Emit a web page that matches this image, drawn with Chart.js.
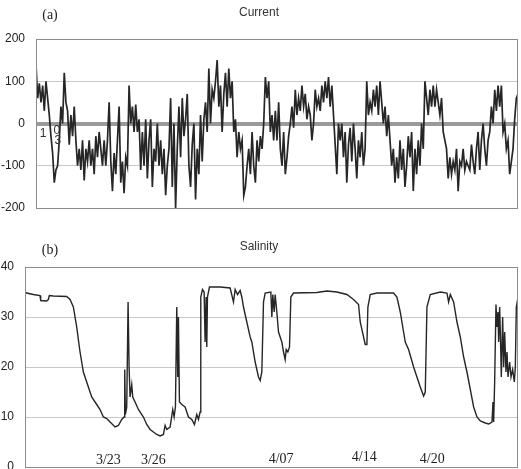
<!DOCTYPE html>
<html lang="en">

<head>
    <meta charset="UTF-8">
    <title>Current and Salinity</title>
    <style>
        body {
            margin: 0;
            background: #fff;
        }

        canvas {
            display: block;
        }
    </style>
    <script src="https://cdn.jsdelivr.net/npm/chart.js"></script>
</head>

<body>
    <canvas id="currentChart" width="521" height="222"></canvas>
    <canvas id="salinityChart" width="521" height="247"></canvas>

    <script>
        // current readings, one per sample
        var currentValues = [
            140, 60, 95, 50, 90, 30, 100, 60, 20, -30, -70, -140,
            -110, -100, -40, 40, 0, 120, 50, 30, -50, 20, -30, 40,
            -40, -100, -60, -110, -40, -135, -60, -90, -40, -100, -60, -120,
            -30, -80, -20, -60, -100, -40, -100, -40, 50, -90, -160, -70,
            -120, -40, 40, -140, -90, -165, -80, -100, 90, 0, 40, -20,
            45, -20, 10, -110, -20, -100, 10, -130, -40, 10, -150, -60,
            -90, 0, -100, -40, -120, -60, -170, -100, -60, 60, -150, 0,
            -200, -60, 40, -80, 60, -30, 10, 70, -100, -150, -50, 0,
            -180, -60, -120, 20, -90, 10, 50, -20, 130, 0, 80, 60,
            100, 150, 40, 90, -20, 70, 120, 40, 130, 60, 100, -20,
            10, -80, -20, -60, -40, -170, -150, -100, -60, -120, -20, -100,
            -140, -40, -90, -30, -60, 0, 110, 60, 100, -20, 20, -40,
            30, -40, 50, -60, -100, -20, -120, -80, -30, 0, 40, -10,
            80, 20, 60, 30, 90, 40, 70, 10, 40, 20, -40, 0,
            80, 40, 60, 30, 90, 50, 100, 60, 110, 40, 90, 20,
            -50, -120, 0, -40, 0, -80, -20, -140, -50, -10, -90, 0,
            -60, -130, -40, -80, -20, -100, -60, 100, 20, 50, 30, 80,
            40, 90, 20, 100, 50, 0, 40, -30, 20, -40, -100, -60,
            -140, -80, -130, -40, -110, -60, -150, -100, -30, -80, -20, -160,
            -60, -120, -40, -100, 0, -60, 100, 60, 20, 80, 40, 90,
            40, 80, 50, 20, 60, -20, -40, -60, -130, -80, -120, -90,
            -110, -60, -160, -90, -100, -60, -110, -90, -100, -110, -50, -90,
            -120, -60, -20, -110, -40, 0, -60, -100, -40, -20, 40, 0,
            80, 30, 90, 40, 90, -20, 0, -60, -40, -120, -90, -60,
            10, 60, 70
        ];
        var currentTicks = [-200, -100, 0, 100, 200];
        var currentStray = ['1', '0', '3'];
        var currentStrayAt = [4.2, 12.6, 13.2];
        var currentStrayVal = [-24, -17, -40];

        // salinity: sample time and value
        var salTime = [
            0, 5, 25, 45, 47, 65, 70, 73, 85, 125, 135, 145, 155, 165, 175, 190, 200,
            215, 225, 235, 245, 255, 270, 280, 290, 297, 299, 301, 305, 309, 312, 315,
            320, 323, 330, 340, 355, 365, 375, 385, 395, 405, 415, 420, 425, 435, 443,
            447, 451, 455, 458, 460, 463, 470, 480, 490, 500, 508, 515, 520, 525, 527,
            532, 537, 540, 543, 545, 547, 553, 585, 615, 625, 630, 637, 645, 650, 655,
            665, 675, 680, 690, 700, 705, 710, 715, 720, 737, 740, 743, 747, 750, 755,
            760, 770, 775, 780, 783, 788, 793, 797, 805, 875, 905, 935, 965, 985, 1000,
            1005, 1015, 1020, 1025, 1028, 1035, 1055, 1105, 1115, 1125, 1135, 1140, 1150,
            1165, 1175, 1185, 1195, 1200, 1205, 1215, 1245, 1265, 1270, 1275, 1285, 1295,
            1305, 1315, 1325, 1335, 1345, 1355, 1365, 1380, 1390, 1400, 1403, 1405, 1408,
            1412, 1415, 1418, 1420, 1423, 1425, 1428, 1432, 1435, 1438, 1442, 1445, 1448,
            1453, 1457, 1462, 1467, 1470, 1473, 1478
        ];
        var salinityValues = [
            35, 34.8, 34.5, 34.3, 33.3, 33.2, 33.5, 34.3, 34.2, 34.1, 33.5, 32, 28, 23, 19, 16, 14,
            12.5, 11.5, 10, 9.7, 9, 8, 8.3, 9.5, 10, 19.5, 10.5, 12, 33, 20, 14,
            16.5, 14, 13, 11.5, 10, 8.5, 7.5, 7, 6.5, 6.2, 6.5, 8.3, 7.5, 8, 11.5,
            10, 12, 32, 18, 30, 13, 12.5, 12, 10, 9.5, 8.5, 10.5, 9.5, 11, 34,
            35.5, 35, 25, 34, 24, 34, 36, 36, 35.8, 33, 35.5, 34.5, 35.3, 34, 32,
            29, 26, 25, 21, 18, 17.3, 19, 33, 34.8, 35, 30, 34.5, 31, 34.5, 31,
            27, 25, 23, 21.5, 23.5, 23, 24, 34, 34.8, 34.9, 35.2, 35, 34.5, 33.5, 32.5,
            29, 26, 24.5, 24.5, 32, 34.5, 34.8, 34.8, 34, 31, 27, 25, 23.5,
            20, 18, 16, 14.2, 15, 32, 34.5, 35, 34.8, 33, 34.5, 33, 29,
            26, 22, 19, 15.5, 12, 10, 9.2, 8.8, 8.6, 9, 13, 9, 17,
            32.5, 28, 31, 25, 32, 27, 18, 30, 20, 27, 19, 23, 18,
            21, 18, 19.5, 17, 20, 32, 34
        ];
        var salinityTicks = [0, 10, 20, 30, 40];
        var dateLabels = ['3/23', '3/26', '4/07', '4/14', '4/20'];
        var dateAt = [250, 385, 768, 1017, 1221];
        var dateVal = [1.4, 1.4, 1.5, 2, 1.6];

        var sansFont = '"Liberation Sans", Arial, sans-serif';
        var serifFont = '"Liberation Serif", "Times New Roman", serif';

        // box round the plot area plus free text
        var boxAndText = {
            id: 'boxAndText',
            afterDraw: function (chart, args, opts) {
                var ctx = chart.ctx;
                var a = chart.chartArea;
                ctx.save();
                ctx.strokeStyle = '#8c8c8c';
                ctx.lineWidth = 1;
                ctx.strokeRect(a.left + 0.5, a.top + 0.5, a.right - a.left - 1, a.bottom - a.top);
                ctx.fillStyle = '#222';
                ctx.textAlign = 'center';
                ctx.textBaseline = 'middle';
                ctx.font = '14px ' + serifFont;
                ctx.fillText(opts.tag, 50, opts.tagY);
                if (opts.labels) {
                    ctx.font = opts.labelFont;
                    ctx.fillStyle = opts.labelColor;
                    for (var i = 0; i < opts.labels.length; i++) {
                        var px = chart.scales.x.getPixelForValue(opts.at[i]);
                        var py = chart.scales.y.getPixelForValue(opts.val[i]);
                        ctx.fillText(opts.labels[i], px, py);
                    }
                }
                ctx.restore();
            }
        };

        function noPad(scale) {
            scale.paddingTop = 0;
            scale.paddingBottom = 0;
        }

        new Chart(document.getElementById('currentChart'), {
            type: 'line',
            data: {
                datasets: [{
                    label: 'Current',
                    data: currentValues.map(function (v, i) { return { x: i, y: v }; }),
                    borderColor: '#262626',
                    borderWidth: 1.7,
                    pointRadius: 0,
                    tension: 0
                }]
            },
            options: {
                responsive: false,
                animation: false,
                layout: { padding: { left: 0, right: 3, top: 0, bottom: 14 } },
                plugins: {
                    legend: { display: false },
                    tooltip: { enabled: false },
                    title: {
                        display: true,
                        text: 'Current',
                        color: '#333',
                        font: { family: sansFont, size: 12, weight: 'normal' },
                        padding: { top: 5, bottom: 19.6 }
                    },
                    boxAndText: {
                        tag: '(a)', tagY: 15,
                        labels: currentStray, at: currentStrayAt, val: currentStrayVal,
                        labelFont: '12px ' + sansFont, labelColor: '#333'
                    }
                },
                scales: {
                    x: { type: 'linear', display: false, min: 0, max: currentValues.length - 1 },
                    y: {
                        min: -200, max: 200,
                        afterFit: function (scale) { scale.width = 36; noPad(scale); },
                        afterBuildTicks: function (scale) {
                            scale.ticks = currentTicks.map(function (v) { return { value: v }; });
                        },
                        border: { display: false },
                        grid: {
                            drawTicks: false,
                            color: function (c) { return c.tick.value === 0 ? '#9a9a9a' : '#c8c8c8'; },
                            lineWidth: function (c) { return c.tick.value === 0 ? 4 : 1; }
                        },
                        ticks: {
                            padding: 11,
                            color: '#222',
                            font: { family: sansFont, size: 12 }
                        }
                    }
                }
            },
            plugins: [boxAndText]
        });

        new Chart(document.getElementById('salinityChart'), {
            type: 'line',
            data: {
                datasets: [{
                    label: 'Salinity',
                    data: salTime.map(function (t, i) { return { x: t, y: salinityValues[i] }; }),
                    borderColor: '#262626',
                    borderWidth: 1.4,
                    pointRadius: 0,
                    tension: 0
                }]
            },
            options: {
                responsive: false,
                animation: false,
                layout: { padding: { left: 0, right: 3, top: 0, bottom: 2 } },
                plugins: {
                    legend: { display: false },
                    tooltip: { enabled: false },
                    title: {
                        display: true,
                        text: 'Salinity',
                        color: '#333',
                        font: { family: sansFont, size: 12, weight: 'normal' },
                        padding: { top: 17, bottom: 13.6 }
                    },
                    boxAndText: {
                        tag: '(b)', tagY: 28,
                        labels: dateLabels, at: dateAt, val: dateVal,
                        labelFont: '14px ' + serifFont, labelColor: '#222'
                    }
                },
                scales: {
                    x: { type: 'linear', display: false, min: 0, max: salTime[salTime.length - 1] },
                    y: {
                        min: 0, max: 40,
                        afterFit: function (scale) { scale.width = 25; noPad(scale); },
                        afterBuildTicks: function (scale) {
                            scale.ticks = salinityTicks.map(function (v) { return { value: v }; });
                        },
                        border: { display: false },
                        grid: { drawTicks: false, color: '#c8c8c8', lineWidth: 1 },
                        ticks: {
                            padding: 11,
                            color: '#222',
                            font: { family: sansFont, size: 12 }
                        }
                    }
                }
            },
            plugins: [boxAndText]
        });
    </script>
</body>

</html>
